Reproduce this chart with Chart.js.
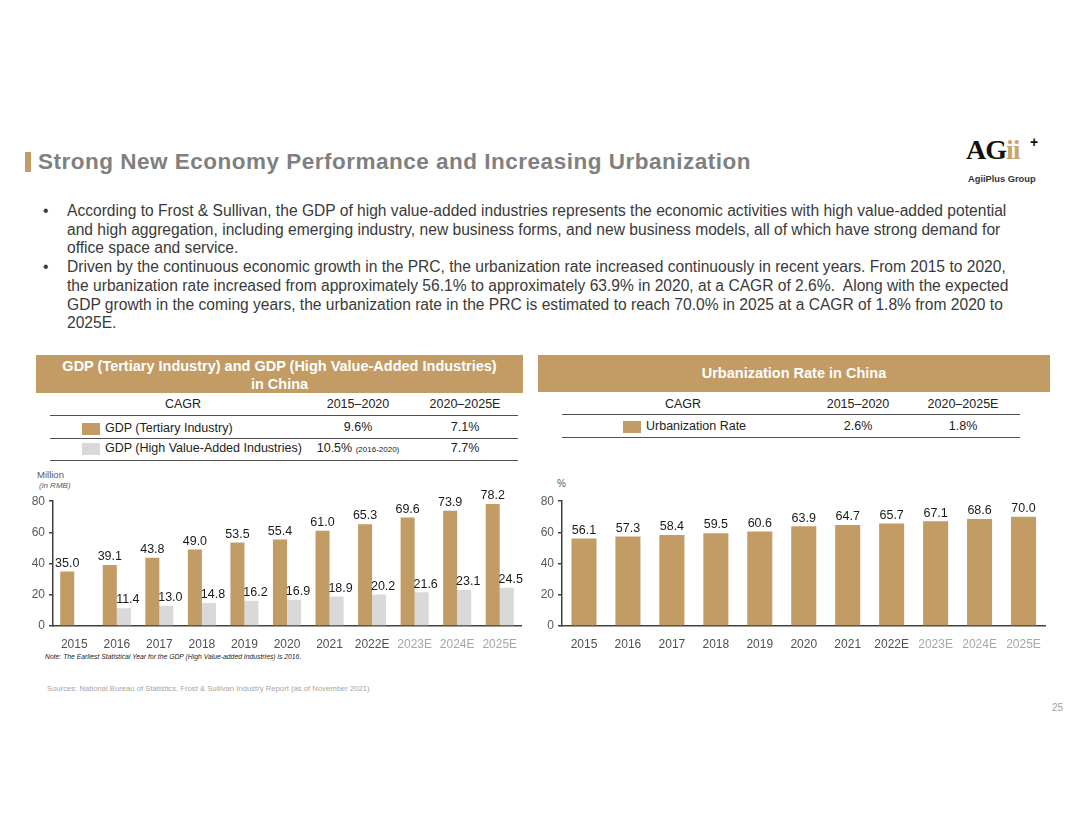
<!DOCTYPE html>
<html>
<head>
<meta charset="utf-8">
<script src="https://cdn.jsdelivr.net/npm/chart.js@4.4.0/dist/chart.umd.min.js"></script>
<style>
  html, body { margin: 0; padding: 0; background: #fff; }
  body { width: 1080px; height: 834px; position: relative; overflow: hidden; font-family: "Liberation Sans", Arial, sans-serif; color: #404040; }
  .abs { position: absolute; white-space: nowrap; }
  .title-bar { left: 25px; top: 152px; width: 6px; height: 20px; background: #C39B64; }
  .title { left: 38px; top: 149px; font-size: 22.5px; letter-spacing: 0.5px; font-weight: bold; color: #808080; }
  .bullets { left: 43px; top: 202px; font-size: 15.6px; line-height: 18.7px; color: #3a3a3a; }
  .bullets .ln { position: relative; padding-left: 24px; }
  .bullets .dot { position: absolute; left: 0; }
  .hdr { background: #C39B64; color: #fff; font-weight: bold; font-size: 14.5px; text-align: center; }
  .tbl { font-size: 12.5px; color: #222; }
  .hline { position: absolute; height: 0; border-top: 1.5px solid #505050; }
  .sw { position: absolute; width: 18px; height: 12px; }
  .c { position: absolute; transform: translateX(-50%); white-space: nowrap; }
</style>
</head>
<body>
<div class="abs title-bar"></div>
<div class="abs title">Strong New Economy Performance and Increasing Urbanization</div>

<!-- logo -->
<div class="abs" style="left:966px;top:134px;font-family:'Liberation Serif',serif;font-weight:bold;font-size:28px;color:#111;letter-spacing:-1px;">AG<span style="color:#C9A56E;">ii</span></div>
<div class="abs" style="left:1030px;top:134px;font-family:'Liberation Sans';font-weight:bold;font-size:14px;color:#111;">+</div>
<div class="abs" style="left:968px;top:174px;font-size:9.3px;font-weight:bold;color:#333;">AgiiPlus Group</div>

<div class="abs bullets">
  <div class="ln"><span class="dot">•</span>According to Frost &amp; Sullivan, the GDP of high value-added industries represents the economic activities with high value-added potential</div>
  <div class="ln">and high aggregation, including emerging industry, new business forms, and new business models, all of which have strong demand for</div>
  <div class="ln">office space and service.</div>
  <div class="ln"><span class="dot">•</span>Driven by the continuous economic growth in the PRC, the urbanization rate increased continuously in recent years. From 2015 to 2020,</div>
  <div class="ln">the urbanization rate increased from approximately 56.1% to approximately 63.9% in 2020, at a CAGR of 2.6%.&nbsp; Along with the expected</div>
  <div class="ln">GDP growth in the coming years, the urbanization rate in the PRC is estimated to reach 70.0% in 2025 at a CAGR of 1.8% from 2020 to</div>
  <div class="ln">2025E.</div>
</div>

<!-- left header + table -->
<div class="abs hdr" style="left:36px;top:355px;width:487px;height:38px;line-height:18px;padding-top:2px;box-sizing:border-box;">GDP (Tertiary Industry) and GDP (High Value-Added Industries)<br>in China</div>
<div class="tbl">
  <div class="c" style="left:183px;top:397px;">CAGR</div>
  <div class="c" style="left:358px;top:397px;">2015–2020</div>
  <div class="c" style="left:465px;top:397px;">2020–2025E</div>
  <div class="hline" style="left:50px;top:415px;width:468px;"></div>
  <div class="sw" style="left:82px;top:423px;background:#C39B64;"></div>
  <div class="abs" style="left:105px;top:421px;">GDP (Tertiary Industry)</div>
  <div class="c" style="left:358px;top:420px;">9.6%</div>
  <div class="c" style="left:465px;top:420px;">7.1%</div>
  <div class="hline" style="left:50px;top:438px;width:468px;"></div>
  <div class="sw" style="left:82px;top:443px;background:#D9D9D9;"></div>
  <div class="abs" style="left:105px;top:441px;">GDP (High Value-Added Industries)</div>
  <div class="c" style="left:358px;top:441px;">10.5% <span style="font-size:8px;">(2016-2020)</span></div>
  <div class="c" style="left:465px;top:441px;">7.7%</div>
  <div class="hline" style="left:50px;top:460px;width:468px;"></div>
</div>

<!-- right header + table -->
<div class="abs hdr" style="left:538px;top:355px;width:512px;height:37px;line-height:37px;">Urbanization Rate in China</div>
<div class="tbl">
  <div class="c" style="left:683px;top:397px;">CAGR</div>
  <div class="c" style="left:858px;top:397px;">2015–2020</div>
  <div class="c" style="left:963px;top:397px;">2020–2025E</div>
  <div class="hline" style="left:562px;top:414px;width:458px;"></div>
  <div class="sw" style="left:623px;top:421px;background:#C39B64;"></div>
  <div class="abs" style="left:646px;top:419px;">Urbanization Rate</div>
  <div class="c" style="left:858px;top:419px;">2.6%</div>
  <div class="c" style="left:963px;top:419px;">1.8%</div>
  <div class="hline" style="left:562px;top:437px;width:458px;"></div>
</div>

<!-- axis captions -->
<div class="abs" style="left:37px;top:469px;font-size:9.5px;color:#595959;">Million</div>
<div class="abs" style="left:39px;top:481px;font-size:8px;font-style:italic;color:#595959;">(in RMB)</div>
<div class="abs" style="left:557px;top:478px;font-size:10px;color:#595959;">%</div>

<div class="abs" style="left:26px;top:490px;width:500px;height:160px;"><canvas id="gdpChart"></canvas></div>
<div class="abs" style="left:534px;top:490px;width:514px;height:160px;"><canvas id="urbanChart"></canvas></div>

<div class="abs" style="left:45px;top:653px;font-size:6.8px;font-style:italic;color:#222;">Note: The Earliest Statistical Year for the GDP (High Value-added Industries) is 2016.</div>
<div class="abs" style="left:47px;top:684px;font-size:7.7px;color:#a6a6a6;">Sources: National Bureau of Statistics, Frost &amp; Sullivan Industry Report (as of November 2021)</div>
<div class="abs" style="left:1052px;top:702px;font-size:10px;color:#a0a0a0;">25</div>

<script>
const years = ['2015', '2016', '2017', '2018', '2019', '2020', '2021', '2022E', '2023E', '2024E', '2025E'];
const gdpTertiary = [35.0, 39.1, 43.8, 49.0, 53.5, 55.4, 61.0, 65.3, 69.6, 73.9, 78.2];
const gdpHighValue = [null, 11.4, 13.0, 14.8, 16.2, 16.9, 18.9, 20.2, 21.6, 23.1, 24.5];
const urbanRate = [56.1, 57.3, 58.4, 59.5, 60.6, 63.9, 64.7, 65.7, 67.1, 68.6, 70.0];
const yTicks = [0, 20, 40, 60, 80];

const GOLD = '#C39B64';
const GREY = '#D9D9D9';
const AXIS = '#404040';
const FONT = 'Liberation Sans';

// Значения над столбцами
const barLabels = {
    id: 'barLabels',
    afterDatasetsDraw(chart) {
        const ctx = chart.ctx;
        ctx.save();
        ctx.font = `12.5px "${FONT}"`;
        ctx.fillStyle = '#1a1a1a';
        ctx.textAlign = 'center';
        ctx.textBaseline = 'bottom';
        chart.data.datasets.forEach((ds, i) => {
            const meta = chart.getDatasetMeta(i);
            meta.data.forEach((bar, j) => {
                const v = ds.data[j];
                if (v === null || v === undefined) return;
                ctx.fillText(v.toFixed(1), bar.x + (ds.labelShift || 0), bar.y - 2);
            });
        });
        ctx.restore();
    }
};

function baseOptions(yWidth, padRight) {
    return {
        responsive: true,
        maintainAspectRatio: false,
        animation: false,
        layout: { padding: { top: 11, right: padRight, bottom: 0, left: 0 } },
        plugins: { legend: { display: false }, tooltip: { enabled: false } },
        scales: {
            x: {
                grid: { display: false },
                border: { color: AXIS, width: 1.5 },
                ticks: {
                    padding: 3,
                    maxRotation: 0,
                    autoSkip: false,
                    font: { family: FONT, size: 12 },
                    color: (c) => c.index >= 8 ? '#A6A6A6' : '#505050'
                },
                afterFit: (s) => { s.height = 24; }
            },
            y: {
                min: 0,
                max: yTicks[yTicks.length - 1],
                afterBuildTicks: (s) => { s.ticks = yTicks.map(v => ({ value: v })); },
                grid: { drawOnChartArea: false, drawTicks: true, tickLength: 4, color: AXIS, lineWidth: 1.5 },
                border: { color: AXIS, width: 1.5 },
                ticks: { padding: 4, font: { family: FONT, size: 12 }, color: '#595959' },
                afterFit: (s) => { s.width = yWidth; }
            }
        }
    };
}

const gdpOpts = baseOptions(27, 5);
new Chart(document.getElementById('gdpChart'), {
    type: 'bar',
    data: {
        labels: years,
        datasets: [
            { label: 'GDP (Tertiary Industry)', data: gdpTertiary, backgroundColor: GOLD, categoryPercentage: 0.66, barPercentage: 1 },
            { label: 'GDP (High Value-Added Industries)', data: gdpHighValue, backgroundColor: GREY, categoryPercentage: 0.66, barPercentage: 1, labelShift: 4 }
        ]
    },
    options: gdpOpts,
    plugins: [barLabels]
});

const urbanOpts = baseOptions(28, 2.5);
new Chart(document.getElementById('urbanChart'), {
    type: 'bar',
    data: {
        labels: years,
        datasets: [
            { label: 'Urbanization Rate', data: urbanRate, backgroundColor: GOLD, categoryPercentage: 1, barPercentage: 0.57 }
        ]
    },
    options: urbanOpts,
    plugins: [barLabels]
});
</script>
</body>
</html>
